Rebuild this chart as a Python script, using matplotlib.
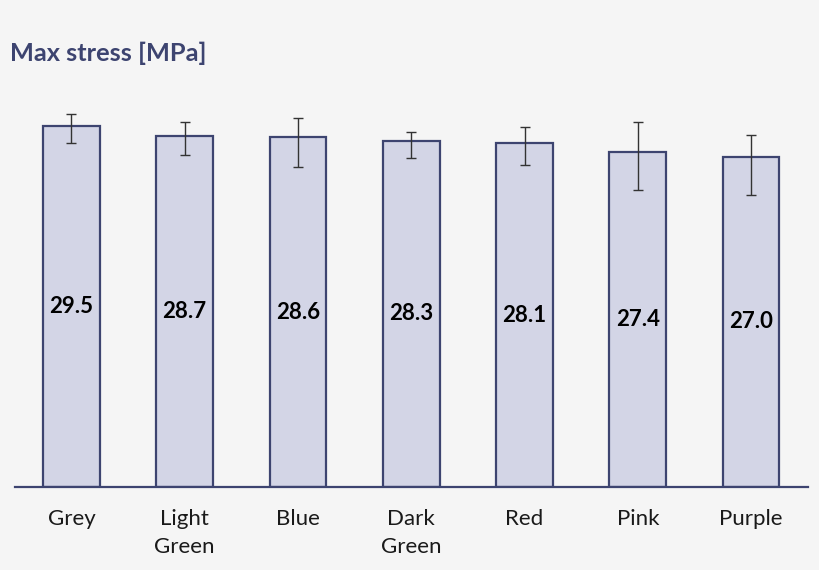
import matplotlib
matplotlib.use("Agg")
import matplotlib.pyplot as plt
import numpy as np

# ------------------------------------------------------------
# DATA
# ------------------------------------------------------------
categories = ["Grey", "Light\nGreen", "Blue", "Dark\nGreen", "Red", "Pink", "Purple"]
max_stress = [29.5, 28.7, 28.6, 28.3, 28.1, 27.4, 27.0]
err_upper = [0.96, 1.09, 1.52, 0.74, 1.36, 2.40, 1.77]
err_lower = [1.41, 1.58, 2.48, 1.41, 1.82, 3.10, 3.10]
value_labels = ["29.5", "28.7", "28.6", "28.3", "28.1", "27.4", "27.0"]

# ------------------------------------------------------------
# STYLE
# ------------------------------------------------------------
bg_color = "#f5f5f5"
bar_fill = "#d3d5e6"
navy = "#3d4470"
plt.rcParams["font.family"] = ["Lato", "DejaVu Sans"]

fig = plt.figure(figsize=(8.2, 5.7), dpi=100, facecolor=bg_color)
ax = fig.add_axes([0.018, 0.1456, 0.967, 0.687])
ax.set_facecolor(bg_color)

x = np.arange(len(categories))
ax.bar(x, max_stress, width=0.5, color=bar_fill, edgecolor=navy, linewidth=1.6, zorder=2)
ax.errorbar(x, max_stress, yerr=[err_lower, err_upper], fmt="none",
            ecolor="#333333", elinewidth=1.0, capsize=3.6, capthick=1.0, zorder=3)

for xi, val, lab in zip(x, max_stress, value_labels):
    ax.text(xi, val / 2, lab, ha="center", va="center", fontsize=16,
            fontweight="bold", color="black", zorder=4)

ax.set_xlim(-0.5, len(categories) - 0.5)
ax.set_ylim(0, 32)
ax.set_xticks(x)
ax.set_xticklabels(categories, fontsize=16, color="#1a1a1a", linespacing=1.5)
ax.tick_params(axis="x", length=0, pad=16)
ax.set_yticks([])

for side in ["left", "right", "top"]:
    ax.spines[side].set_visible(False)
ax.spines["bottom"].set_color(navy)
ax.spines["bottom"].set_linewidth(1.6)

fig.text(0.012, 0.906, "Max stress [MPa]", fontsize=18.3, fontweight="bold",
         color=navy, ha="left", va="center")

fig.savefig("out.png", dpi=100, facecolor=bg_color)
